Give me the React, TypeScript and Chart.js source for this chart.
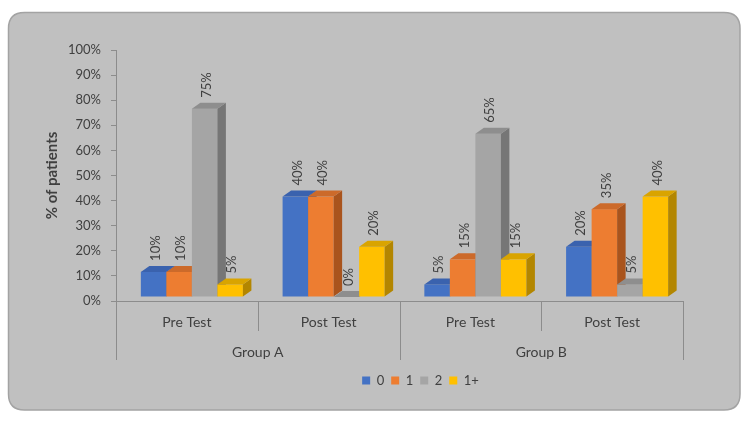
import React, { useEffect, useRef } from "react";
import { Chart, registerables } from "chart.js";

Chart.register(...registerables);

const categories = ["Pre Test", "Post Test", "Pre Test", "Post Test"];
const groupLabels = ["Group A", "Group B"];
const seriesNames = ["0", "1", "2", "1+"];
const values0 = [10, 40, 5, 20];
const values1 = [10, 40, 15, 35];
const values2 = [75, 0, 65, 5];
const values3 = [5, 20, 15, 40];
const yMax = 100;
const yStep = 10;

const frontColors = ["#4472C4", "#ED7D31", "#A5A5A5", "#FFC000"];
const topColors = ["#3A62AE", "#CC6A2A", "#8E8E8E", "#D9A400"];
const sideColors = ["#2F5597", "#A9541D", "#767676", "#B38600"];

const OX = 5;
const OY = -4;
const DX = 8.5;
const DY = -6;
const LEGEND_CX = 420.5;
const FONT = "Lato";
const TEXT = "#404040";
const LINE = "#8c8c8c";

const bar3d = {
  id: "bar3d",
  afterLayout(chart: any) {
    const lg = chart.legend;
    if (lg) {
      const shift = LEGEND_CX - (lg.left + lg.right) / 2;
      lg.left += shift;
      lg.right += shift;
    }
  },
  beforeDraw(chart: any) {
    const ctx = chart.ctx;
    ctx.save();
    ctx.fillStyle = "#ffffff";
    ctx.fillRect(0, 0, chart.width, chart.height);
    const x = 8.5, y = 12.5, w = 731.5, h = 397.5, r = 16;
    ctx.beginPath();
    ctx.moveTo(x + r, y);
    ctx.lineTo(x + w - r, y);
    ctx.quadraticCurveTo(x + w, y, x + w, y + r);
    ctx.lineTo(x + w, y + h - r);
    ctx.quadraticCurveTo(x + w, y + h, x + w - r, y + h);
    ctx.lineTo(x + r, y + h);
    ctx.quadraticCurveTo(x, y + h, x, y + h - r);
    ctx.lineTo(x, y + r);
    ctx.quadraticCurveTo(x, y, x + r, y);
    ctx.closePath();
    ctx.fillStyle = "#c0c0c0";
    ctx.fill();
    ctx.lineWidth = 1.5;
    ctx.strokeStyle = "#a3a3a3";
    ctx.stroke();
    ctx.restore();
  },
  beforeDatasetDraw() {
    return false;
  },
  afterDatasetsDraw(chart: any) {
    const ctx = chart.ctx;
    const n = chart.data.labels.length;
    const nds = chart.data.datasets.length;
    ctx.save();
    for (let idx = 0; idx < n; idx++) {
      for (let d = 0; d < nds; d++) {
        const el = chart.getDatasetMeta(d).data[idx];
        const { x, y, base, width } = el.getProps(["x", "y", "base", "width"], true);
        const l = x - width / 2 + OX;
        const r = x + width / 2 + OX;
        const t = y + OY;
        const b = base + OY;
        ctx.fillStyle = frontColors[d];
        ctx.fillRect(l, t, r - l, b - t);
        ctx.fillStyle = sideColors[d];
        ctx.beginPath();
        ctx.moveTo(r, t);
        ctx.lineTo(r + DX, t + DY);
        ctx.lineTo(r + DX, b + DY);
        ctx.lineTo(r, b);
        ctx.closePath();
        ctx.fill();
        ctx.fillStyle = topColors[d];
        ctx.beginPath();
        ctx.moveTo(l, t);
        ctx.lineTo(l + DX, t + DY);
        ctx.lineTo(r + DX, t + DY);
        ctx.lineTo(r, t);
        ctx.closePath();
        ctx.fill();
      }
    }
    // data labels
    ctx.fillStyle = TEXT;
    ctx.font = `13px ${FONT}`;
    ctx.textAlign = "left";
    ctx.textBaseline = "middle";
    for (let d = 0; d < nds; d++) {
      const meta = chart.getDatasetMeta(d);
      meta.data.forEach((el: any, idx: number) => {
        const { x, y } = el.getProps(["x", "y"], true);
        const v = chart.data.datasets[d].data[idx];
        ctx.save();
        ctx.translate(x + OX + 2, y + OY + DY - 5);
        ctx.rotate(-Math.PI / 2);
        ctx.fillText(v + "%", 0, 0);
        ctx.restore();
      });
    }
    // category separators and group labels
    const xs = chart.scales.x;
    const half = (xs.getPixelForValue(1) - xs.getPixelForValue(0)) / 2;
    const top = xs.top;
    const per = n / groupLabels.length;
    ctx.strokeStyle = LINE;
    ctx.lineWidth = 1;
    for (let k = 0; k <= n; k++) {
      const bx = Math.round(xs.getPixelForValue(0) - half + k * 2 * half) + 0.5;
      const long = k % per === 0;
      ctx.beginPath();
      ctx.moveTo(bx, top);
      ctx.lineTo(bx, top + (long ? 59 : 30));
      ctx.stroke();
    }
    ctx.fillStyle = TEXT;
    ctx.font = `14px ${FONT}`;
    ctx.textAlign = "center";
    ctx.textBaseline = "middle";
    groupLabels.forEach((g, gi) => {
      const cx = xs.getPixelForValue(gi * per) - half + per * half;
      ctx.fillText(g, cx, top + 51);
    });
    ctx.restore();
  },
};

export default function App() {
  const ref = useRef<HTMLCanvasElement>(null);
  useEffect(() => {
    const canvas = ref.current as HTMLCanvasElement;
    const values = [values0, values1, values2, values3];
    const chart = new Chart(canvas, {
      type: "bar",
      data: {
        labels: categories,
        datasets: values.map((v, i) => ({
          label: seriesNames[i],
          data: v,
          backgroundColor: frontColors[i],
          borderWidth: 0,
        })),
      },
      options: {
        responsive: false,
        animation: false,
        layout: { padding: { left: 41, right: 67, top: 50, bottom: 26 } },
        datasets: { bar: { categoryPercentage: 0.72, barPercentage: 1 } },
        plugins: {
          legend: {
            position: "bottom",
            labels: {
              boxWidth: 8,
              boxHeight: 8,
              padding: 7,
              color: TEXT,
              font: { family: FONT, size: 13 },
            },
          },
          tooltip: { enabled: false },
        },
        scales: {
          x: {
            grid: { display: false, drawTicks: false },
            border: { display: true, color: LINE, width: 1 },
            ticks: {
              color: TEXT,
              font: { family: FONT, size: 14 },
              padding: 13,
              maxRotation: 0,
              autoSkip: false,
            },
            afterFit: (s: any) => {
              s.height = 66;
            },
          },
          y: {
            min: 0,
            max: yMax,
            ticks: {
              stepSize: yStep,
              callback: (v: any) => v + "%",
              color: TEXT,
              font: { family: FONT, size: 13 },
              padding: 10,
            },
            grid: { drawOnChartArea: false, drawTicks: true, tickLength: 5, color: LINE },
            border: { display: true, color: LINE },
            title: {
              display: true,
              text: "% of patients",
              color: TEXT,
              font: { family: FONT, size: 15, weight: "bold" },
              padding: { top: 2, bottom: 0 },
            },
            afterFit: (s: any) => {
              s.width = 75;
            },
          },
        },
      } as any,
      plugins: [bar3d as any],
    });
    return () => chart.destroy();
  }, []);
  return (
    <div style={{ position: "fixed", left: 0, top: 0, width: 750, height: 423 }}>
      <canvas ref={ref} width={750} height={423} />
    </div>
  );
}
